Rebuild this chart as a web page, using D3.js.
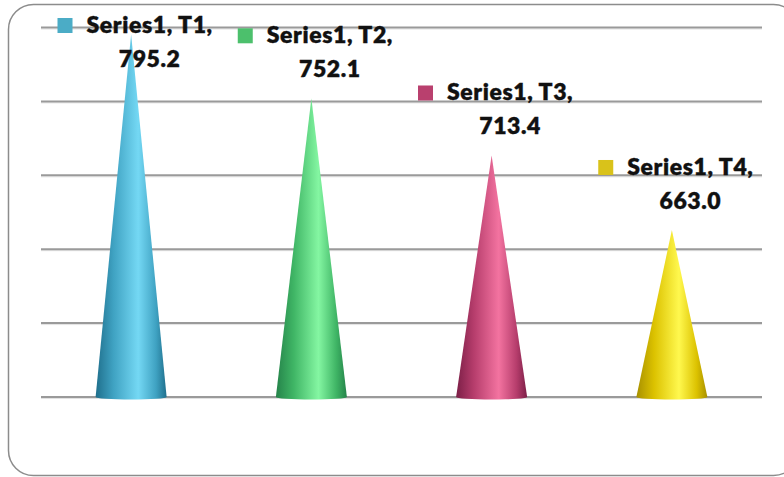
<!DOCTYPE html>
<html>
<head>
<meta charset="utf-8">
<script src="https://cdn.jsdelivr.net/npm/d3@7"></script>
<style>
  html, body { margin: 0; padding: 0; background: #fff; }
  svg { display: block; }
</style>
</head>
<body>
<svg id="chart" width="784" height="477"></svg>
<script>
const categories = ["T1", "T2", "T3", "T4"];
const seriesName = "Series1";
const values = [795.2, 752.1, 713.4, 663.0];
const gridTicks = [550, 600, 650, 700, 750, 800];
const coneColors = [
  { dark: "#1f6f8c", mid: "#3fa2c2", light: "#74d8f4", legend: "#4bacc6" },
  { dark: "#25834a", mid: "#3fb565", light: "#84f6a2", legend: "#4cc06c" },
  { dark: "#7c1f47", mid: "#b63d6c", light: "#f373a0", legend: "#b9406e" },
  { dark: "#a89000", mid: "#dcc200", light: "#fff84e", legend: "#d9c21a" }
];

const svg = d3.select("#chart");

// frame
svg.append("rect")
  .attr("x", 8.5).attr("y", 4.5)
  .attr("width", 790).attr("height", 471)
  .attr("rx", 25).attr("ry", 25)
  .attr("fill", "#fff")
  .attr("stroke", "#8c8c8c")
  .attr("stroke-width", 1.5);

const x = d3.scalePoint().domain(categories).range([41, 762]).padding(0.5);
const y = d3.scaleLinear().domain([550, 800]).range([397, 27.5]);
const coneW = x.step() * 0.394;

// gridlines
const grid = svg.append("g");
grid.selectAll("line.g2").data(gridTicks).join("line")
  .attr("x1", 41).attr("x2", 762)
  .attr("y1", d => y(d) + 1.5).attr("y2", d => y(d) + 1.5)
  .attr("stroke", "#e2e2e2").attr("stroke-width", 1);
grid.selectAll("line.g1").data(gridTicks).join("line")
  .attr("x1", 41).attr("x2", 762)
  .attr("y1", d => y(d)).attr("y2", d => y(d))
  .attr("stroke", "#9a9a9a").attr("stroke-width", 2);

// gradients
const defs = svg.append("defs");
coneColors.forEach((c, i) => {
  const g = defs.append("linearGradient").attr("id", "cg" + i)
    .attr("x1", "0%").attr("x2", "100%").attr("y1", "0%").attr("y2", "0%");
  g.append("stop").attr("offset", "0%").attr("stop-color", c.dark);
  g.append("stop").attr("offset", "25%").attr("stop-color", c.mid);
  g.append("stop").attr("offset", "60%").attr("stop-color", c.light);
  g.append("stop").attr("offset", "85%").attr("stop-color", c.mid);
  g.append("stop").attr("offset", "100%").attr("stop-color", c.dark);
});

const data = categories.map((c, i) => ({ cat: c, v: values[i], i }));

// cones
svg.append("g").selectAll("path").data(data).join("path")
  .attr("d", d => {
    const cx = x(d.cat), base = y(550), tip = y(d.v);
    const l = cx - coneW / 2, r = cx + coneW / 2;
    return `M${l},${base} L${cx},${tip} L${r},${base} A${coneW / 2},2.5 0 0 1 ${l},${base} Z`;
  })
  .attr("fill", d => `url(#cg${d.i})`);

// labels
const lab = svg.append("g")
  .attr("font-family", "Lato, 'Open Sans', sans-serif")
  .attr("font-weight", 800)
  .attr("font-size", 23)
  .attr("letter-spacing", "0.6px")
  .attr("fill", "#111")
  .attr("stroke", "#111")
  .attr("stroke-width", 0.35);

data.forEach(d => {
  const cx = x(d.cat) + 18.5;
  const b1 = Math.max(y(d.v) - 55, 33);
  const t1 = lab.append("text")
    .attr("x", cx).attr("y", b1)
    .attr("text-anchor", "middle")
    .text(`${seriesName}, ${d.cat},`);
  const w = t1.node().getComputedTextLength();
  lab.append("rect")
    .attr("x", cx - w / 2 - 29).attr("y", b1 - 15)
    .attr("width", 15).attr("height", 15)
    .attr("stroke", "none")
    .attr("fill", coneColors[d.i].legend);
  lab.append("text")
    .attr("x", cx).attr("y", b1 + 34)
    .attr("text-anchor", "middle")
    .text(d.v.toFixed(1));
});
</script>
</body>
</html>
